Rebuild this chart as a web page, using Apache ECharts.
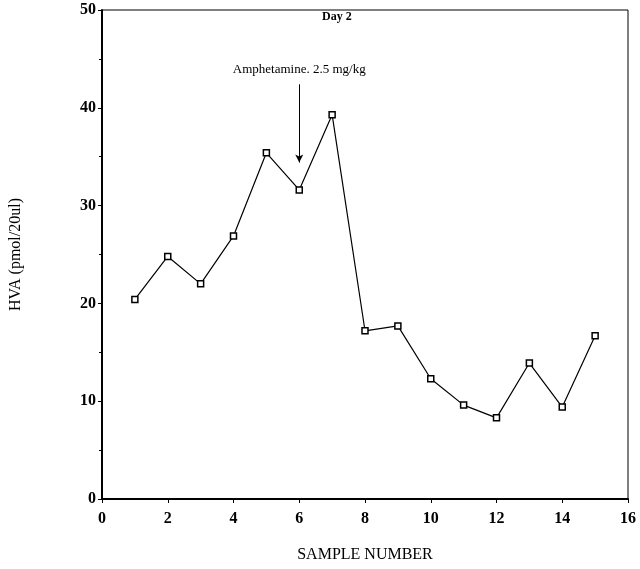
<!DOCTYPE html>
<html><head><meta charset="utf-8">
<script src="https://cdn.jsdelivr.net/npm/echarts@6/dist/echarts.min.js"></script>
<style>html,body{margin:0;padding:0;background:#fff}#c{width:640px;height:569px}</style>
</head><body><div id="c"></div>
<script>
const samples = [1,2,3,4,5,6,7,8,9,10,11,12,13,14,15];
const hva = [20.4,24.8,22.0,26.9,35.4,31.6,39.3,17.2,17.7,12.3,9.6,8.3,13.9,9.4,16.7];
const xTicks = [0,2,4,6,8,10,12,14,16];
const yTicks = [0,10,20,30,40,50];
const arrowX = 6, arrowFrom = 42.4, arrowTo = 34.4;
const font = '"Liberation Serif", "DejaVu Serif", serif';
const chart = echarts.init(document.getElementById('c'));
chart.setOption({
  animation:false,
  grid:{left:101,right:12,top:10,bottom:70,show:true,borderColor:'#000',borderWidth:1},
  xAxis:{type:'value',min:xTicks[0],max:xTicks[xTicks.length-1],interval:2,
    name:'SAMPLE NUMBER',nameLocation:'middle',nameGap:48,
    nameTextStyle:{fontFamily:font,fontSize:16,color:'#000'},
    axisLine:{lineStyle:{color:'#000',width:2}},
    axisTick:{show:true,length:4,lineStyle:{color:'#000'}},
    minorTick:{show:false},
    axisLabel:{fontFamily:font,fontSize:16,fontWeight:'bold',color:'#000',margin:12},
    splitLine:{show:false}},
  yAxis:{type:'value',min:yTicks[0],max:yTicks[yTicks.length-1],interval:10,
    name:'HVA (pmol/20ul)',nameLocation:'middle',nameGap:78,
    nameTextStyle:{fontFamily:font,fontSize:16,color:'#000'},
    axisLine:{lineStyle:{color:'#000',width:2}},
    axisTick:{show:true,length:4,lineStyle:{color:'#000'}},
    minorTick:{show:true,splitNumber:2,length:3,lineStyle:{color:'#000'}},
    axisLabel:{fontFamily:font,fontSize:16,fontWeight:'bold',color:'#000',margin:6},
    splitLine:{show:false}},
  graphic:[{type:'text',left:322,top:11,style:{text:'Day 2',font:'bold 12px '+font,fill:'#000'}}],
  series:[{type:'line',data:samples.map((s,i)=>[s,hva[i]]),
    symbol:'rect',symbolSize:6,showAllSymbol:true,
    lineStyle:{color:'#000',width:1.2},
    itemStyle:{color:'#fff',borderColor:'#000',borderWidth:1.5},
    markLine:{silent:true,symbol:['none','arrow'],symbolSize:[6,8],
      lineStyle:{color:'#000',width:1,type:'solid'},label:{show:false},
      data:[[{coord:[arrowX,arrowFrom]},{coord:[arrowX,arrowTo]}]]},
    markPoint:{silent:true,symbol:'circle',symbolSize:0,
      data:[{coord:[arrowX,arrowFrom],label:{show:true,position:'top',distance:8,
        formatter:'Amphetamine. 2.5 mg/kg',fontFamily:font,fontSize:13,color:'#000'}}]}
  }]
});
</script></body></html>
